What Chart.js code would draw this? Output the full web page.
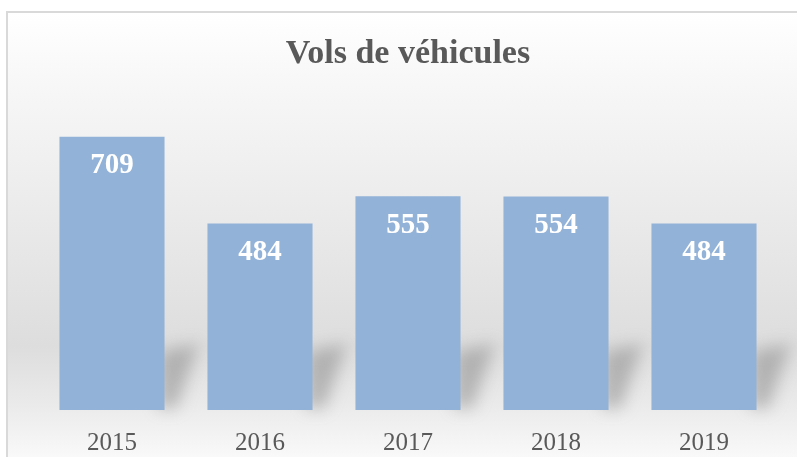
<!DOCTYPE html>
<html>
<head>
<meta charset="utf-8">
<script src="https://cdn.jsdelivr.net/npm/chart.js@4"></script>
<style>
  body { margin: 0; background: #fff; overflow: hidden; }
  #frame {
    position: absolute; left: 6px; top: 11px; width: 790px; height: 444px;
    border-top: 2px solid #d9d9d9; border-left: 2px solid #d9d9d9;
    background: linear-gradient(to bottom, #ffffff 0%, #f8f8f8 14%, #efefef 35%, #e4e4e4 60%, #dddddd 75%, #eaeaea 88%, #f9f9f9 100%);
  }
  #wrap { position: absolute; left: 0; top: 0; width: 797px; height: 486px; }
</style>
</head>
<body>
<div id="frame"></div>
<div id="wrap"><canvas id="chart"></canvas></div>
<script>
const years = ["2015", "2016", "2017", "2018", "2019"];
const thefts = [709, 484, 555, 554, 484];
const title = "Vols de véhicules";

// soft floor shadow behind each bar
const barShadow = {
  id: 'barShadow',
  beforeDatasetsDraw(chart) {
    const ctx = chart.ctx;
    ctx.save();
    ctx.filter = 'blur(8px)';
    ctx.fillStyle = 'rgba(120,120,120,0.45)';
    chart.getDatasetMeta(0).data.forEach((bar) => {
      const right = bar.x + bar.width / 2;
      ctx.beginPath();
      ctx.moveTo(right - 6, bar.base - 2);
      ctx.lineTo(right - 6, bar.base - 58);
      ctx.lineTo(right + 34, bar.base - 66);
      ctx.lineTo(right + 12, bar.base - 2);
      ctx.closePath();
      ctx.fill();
    });
    ctx.restore();
  }
};

// white value labels inside the top of the bars
const valueLabels = {
  id: 'valueLabels',
  afterDatasetsDraw(chart) {
    const ctx = chart.ctx;
    ctx.save();
    ctx.fillStyle = '#ffffff';
    ctx.font = 'bold 29px "Liberation Serif"';
    ctx.textAlign = 'center';
    ctx.textBaseline = 'middle';
    chart.getDatasetMeta(0).data.forEach((bar, i) => {
      ctx.fillText(thefts[i], bar.x, bar.y + 29);
    });
    ctx.restore();
  }
};

new Chart(document.getElementById('chart'), {
  type: 'bar',
  data: {
    labels: years,
    datasets: [{
      data: thefts,
      backgroundColor: '#93b2d8',
      borderWidth: 0,
      barPercentage: 0.71,
      categoryPercentage: 1
    }]
  },
  options: {
    responsive: true,
    maintainAspectRatio: false,
    animation: false,
    layout: { padding: { top: 24, left: 38, right: 19, bottom: 10 } },
    plugins: {
      legend: { display: false },
      tooltip: { enabled: false },
      title: {
        display: true,
        text: title,
        color: '#595959',
        font: { family: 'Liberation Serif', size: 34, weight: 'bold' },
        padding: { top: 10, bottom: 27 }
      }
    },
    scales: {
      x: {
        grid: { display: false, drawTicks: false },
        border: { display: false },
        ticks: {
          color: '#595959',
          padding: 18,
          font: { family: 'Liberation Serif', size: 25 }
        }
      },
      y: { display: false, min: 0, max: 800 }
    }
  },
  plugins: [barShadow, valueLabels]
});
</script>
</body>
</html>
